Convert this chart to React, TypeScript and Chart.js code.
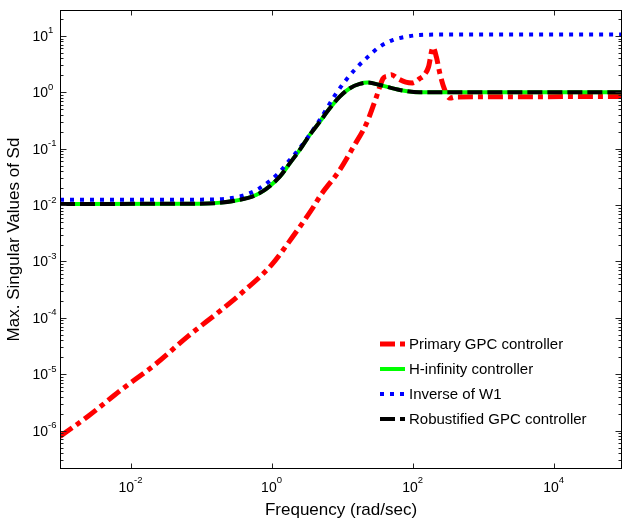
import React, { useEffect, useRef } from 'react';
import { Chart, registerables } from 'chart.js';

Chart.register(...registerables);

// ---- Data (frequency in rad/sec, max singular value of Sd) ----
const gpcFreq = [0.001, 0.0025, 0.0074, 0.022, 0.065, 0.195, 0.374, 1.0, 1.71, 2.96, 4.1, 4.83, 9.27, 14.3, 22.2, 30.8, 38, 44, 50, 62, 80, 100, 126, 145, 168, 195, 218, 243, 286, 337, 420, 93000];
const gpcSd = [7.9e-7, 1.8e-6, 5.3e-6, 1.47e-5, 4.7e-5, 1.39e-4, 2.74e-4, 8.7e-4, 2.1e-3, 5.5e-3, 0.0101, 0.0142, 0.042, 0.105, 0.28, 0.84, 1.75, 1.95, 2.05, 1.75, 1.52, 1.47, 1.75, 2.0, 2.8, 6.3, 4.2, 2.2, 1.1, 0.79, 0.83, 0.84];

const hinfFreq = [0.001, 0.096, 0.354, 0.68, 1.31, 1.81, 2.51, 3.48, 4.83, 6.69, 9.27, 12.9, 17.8, 23.1, 34.3, 65.8, 126, 893, 93000];
const hinfSd = [0.0105, 0.0106, 0.0124, 0.0163, 0.032, 0.055, 0.095, 0.176, 0.30, 0.52, 0.84, 1.18, 1.41, 1.49, 1.35, 1.10, 1.0, 1.0, 1.0];

const w1Freq = [0.001, 0.096, 0.354, 0.68, 1.31, 1.81, 2.51, 4.83, 8.0, 11.4, 15.8, 22.0, 34.3, 53.1, 82.3, 126, 300, 93000];
const w1Sd = [0.0124, 0.0125, 0.0142, 0.020, 0.039, 0.063, 0.102, 0.324, 0.90, 1.66, 2.67, 4.0, 6.46, 8.5, 9.7, 10.4, 10.6, 10.6];

const robFreq = [0.001, 0.096, 0.354, 0.68, 1.31, 1.81, 2.51, 3.48, 4.83, 6.69, 9.27, 12.9, 17.8, 23.1, 34.3, 65.8, 126, 893, 93000];
const robSd = [0.0105, 0.0106, 0.0124, 0.0163, 0.032, 0.055, 0.095, 0.176, 0.30, 0.52, 0.84, 1.18, 1.41, 1.49, 1.35, 1.10, 1.0, 1.0, 1.0];

const seriesLabels = ['Primary GPC controller', 'H-infinity controller', 'Inverse of W1', 'Robustified GPC controller'];
const xTickValues = [1e-2, 1, 1e2, 1e4];
const yTickValues = [1e-6, 1e-5, 1e-4, 1e-3, 1e-2, 1e-1, 1, 10];
const xTitle = 'Frequency (rad/sec)';
const yTitle = 'Max. Singular Values of Sd';

const X_MIN = 1e-3;
const X_MAX = Math.pow(10, 4.97);
const Y_MIN = Math.pow(10, -6.68);
const Y_MAX = Math.pow(10, 1.46);

const FONT = '"Liberation Sans", Arial, Helvetica, sans-serif';

const pts = (fx: number[], vy: number[]) => fx.map((f, i) => ({ x: f, y: vy[i] }));

const axesPlugin = {
  id: 'matlabAxes',
  afterDraw(chart: any) {
    const { ctx, chartArea: a } = chart;
    const xs = chart.scales.x;
    const ys = chart.scales.y;
    ctx.save();
    const L = Math.round(a.left) + 0.5;
    const R = Math.round(a.right) - 0.5;
    const T = Math.round(a.top) + 0.5;
    const B = Math.round(a.bottom) - 0.5;
    // tick marks (inside)
    ctx.strokeStyle = '#222';
    ctx.lineWidth = 1;
    ctx.setLineDash([]);
    ctx.beginPath();
    for (const v of xTickValues) {
      const px = Math.round(xs.getPixelForValue(v)) + 0.5;
      ctx.moveTo(px, B); ctx.lineTo(px, B - 5);
      ctx.moveTo(px, T); ctx.lineTo(px, T + 5);
    }
    for (let k = -7; k <= 1; k++) {
      for (let m = 1; m <= 9; m++) {
        const v = m * Math.pow(10, k);
        if (v < Y_MIN || v > Y_MAX) continue;
        const py = Math.round(ys.getPixelForValue(v)) + 0.5;
        const len = m === 1 ? 6 : 3;
        ctx.moveTo(L, py); ctx.lineTo(L + len, py);
        ctx.moveTo(R, py); ctx.lineTo(R - len, py);
      }
    }
    ctx.stroke();
    // frame
    ctx.strokeStyle = '#000';
    ctx.strokeRect(L, T, R - L, B - T);

    // tick labels: 10 with raised exponent
    ctx.fillStyle = '#000';
    ctx.textAlign = 'left';
    ctx.textBaseline = 'alphabetic';
    const baseFont = `14px ${FONT}`;
    const expFont = `9.5px ${FONT}`;
    for (const v of xTickValues) {
      const e = String(Math.round(Math.log10(v)));
      ctx.font = baseFont;
      const wb = ctx.measureText('10').width;
      ctx.font = expFont;
      const we = ctx.measureText(e).width;
      const px = xs.getPixelForValue(v);
      const x0 = px - (wb + we) / 2;
      const by = a.bottom + 22.5;
      ctx.font = baseFont;
      ctx.fillText('10', x0, by);
      ctx.font = expFont;
      ctx.fillText(e, x0 + wb, by - 8.5);
    }
    for (const v of yTickValues) {
      const e = String(Math.round(Math.log10(v)));
      ctx.font = baseFont;
      const wb = ctx.measureText('10').width;
      const py = ys.getPixelForValue(v);
      const xr = a.left - 12;
      const by = py + 5;
      ctx.fillText('10', xr - wb, by);
      ctx.font = expFont;
      ctx.fillText(e, xr, by - 7.5);
    }

    // legend
    const lx = 380;
    const ly = 344;
    const rowH = 25;
    chart.data.datasets.forEach((ds: any, i: number) => {
      const y = ly + i * rowH;
      ctx.save();
      ctx.strokeStyle = ds.borderColor;
      ctx.lineWidth = ds.borderWidth;
      ctx.lineCap = 'butt';
      ctx.setLineDash(ds.borderDash || []);
      ctx.beginPath();
      ctx.moveTo(lx, y);
      ctx.lineTo(lx + 25, y);
      ctx.stroke();
      ctx.restore();
      ctx.font = `15px ${FONT}`;
      ctx.fillStyle = '#000';
      ctx.textBaseline = 'alphabetic';
      ctx.fillText(ds.label, lx + 29, y + 5.4);
    });
    ctx.restore();
  },
};

export default function App() {
  const ref = useRef<HTMLCanvasElement>(null);
  useEffect(() => {
    document.body.style.margin = '0';
    const canvas = ref.current;
    if (!canvas) return;
    Chart.defaults.font.family = FONT;
    const chart = new Chart(canvas, {
      type: 'line',
      data: {
        datasets: [
          {
            label: seriesLabels[0],
            data: pts(gpcFreq, gpcSd),
            borderColor: '#ff0000',
            borderWidth: 5,
            borderDash: [15, 5, 5, 5],
            order: 4,
          },
          {
            label: seriesLabels[1],
            data: pts(hinfFreq, hinfSd),
            borderColor: '#00ff00',
            borderWidth: 4,
            borderDash: [],
            order: 3,
          },
          {
            label: seriesLabels[2],
            data: pts(w1Freq, w1Sd),
            borderColor: '#0000ff',
            borderWidth: 4,
            borderDash: [4, 6],
            order: 2,
          },
          {
            label: seriesLabels[3],
            data: pts(robFreq, robSd),
            borderColor: '#000000',
            borderWidth: 4,
            borderDash: [15, 5],
            order: 1,
          },
        ] as any,
      },
      options: {
        animation: false,
        responsive: false,
        maintainAspectRatio: false,
        layout: { padding: { left: 0, right: 2, top: 10, bottom: 0 } },
        elements: {
          point: { radius: 0, hoverRadius: 0 },
          line: { tension: 0.4, cubicInterpolationMode: 'monotone', fill: false, borderCapStyle: 'butt' },
        },
        plugins: {
          legend: { display: false },
          tooltip: { enabled: false },
        },
        scales: {
          x: {
            type: 'logarithmic',
            min: X_MIN,
            max: X_MAX,
            grid: { display: false, drawTicks: false },
            border: { display: false },
            ticks: { display: false },
            afterBuildTicks: (s: any) => { s.ticks = xTickValues.map((v) => ({ value: v })); },
            afterFit: (s: any) => { s.height = 55; },
            title: {
              display: true,
              text: xTitle,
              color: '#000',
              font: { size: 17, family: FONT },
              padding: { top: 0, bottom: 3 },
            },
          },
          y: {
            type: 'logarithmic',
            min: Y_MIN,
            max: Y_MAX,
            grid: { display: false, drawTicks: false },
            border: { display: false },
            ticks: { display: false },
            afterBuildTicks: (s: any) => { s.ticks = yTickValues.map((v) => ({ value: v })); },
            afterFit: (s: any) => { s.width = 60; },
            title: {
              display: true,
              text: yTitle,
              color: '#000',
              font: { size: 17, family: FONT },
              padding: { top: 4, bottom: 0 },
            },
          },
        },
      } as any,
      plugins: [axesPlugin],
    });
    return () => chart.destroy();
  }, []);
  return (
    <div style={{ width: 624, height: 524, background: '#fff' }}>
      <canvas ref={ref} width={624} height={524} style={{ display: 'block' }} />
    </div>
  );
}
